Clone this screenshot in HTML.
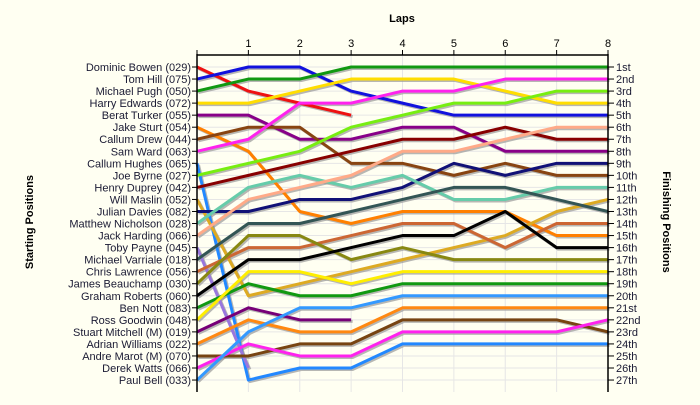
<!DOCTYPE html>
<html><head><meta charset="utf-8"><style>
html,body{margin:0;padding:0;background:#fffff2;}
svg{display:block;font-family:"Liberation Sans",sans-serif;}
</style></head><body>
<svg id="c" width="700" height="405" viewBox="0 0 700 405">
<rect width="700" height="405" fill="#fffff2"/>
<text x="402" y="22" text-anchor="middle" font-size="11" font-weight="bold" fill="#000">Laps</text>
<text transform="translate(33,222) rotate(-90)" text-anchor="middle" font-size="11" font-weight="bold" fill="#000">Starting Positions</text>
<text transform="translate(663,222) rotate(90)" text-anchor="middle" font-size="11" font-weight="bold" fill="#000">Finishing Positions</text>
<g id="grid"></g>
<g id="shadows"></g>
<g id="lines"></g>
<g id="axes"></g>
</svg>
<script>
const laps = [0,1,2,3,4,5,6,7,8];
const drivers = ["Dominic Bowen (029)","Tom Hill (075)","Michael Pugh (050)","Harry Edwards (072)","Berat Turker (055)","Jake Sturt (054)","Callum Drew (044)","Sam Ward (063)","Callum Hughes (065)","Joe Byrne (027)","Henry Duprey (042)","Will Maslin (052)","Julian Davies (082)","Matthew Nicholson (028)","Jack Harding (066)","Toby Payne (045)","Michael Varriale (018)","Chris Lawrence (056)","James Beauchamp (030)","Graham Roberts (060)","Ben Nott (083)","Ross Goodwin (048)","Stuart Mitchell  (M) (019)","Adrian Williams (022)","Andre Marot  (M) (070)","Derek Watts (066)","Paul Bell (033)"];
const colors = ["#ee1111","#1111dd","#119911","#ffdd00","#880088","#ff8000","#884411","#ff22ee","#2288ff","#77ee11","#880000","#ddaa22","#111177","#66ccaa","#ffaa88","#9977dd","#335555","#cc6633","#888811","#000000","#119911","#ffee00","#770077","#ff8811","#774411","#ff22ee","#3399ff"];
const p01 = [1,3,4,5];
const p02 = [2,1,1,3,4,5,5,5,5];
const p03 = [3,2,2,1,1,1,1,1,1];
const p04 = [4,4,3,2,2,2,3,4,4];
const p05 = [5,5,7,7,6,6,8,8,8];
const p06 = [6,8,13,14,13,13,13,15,15];
const p07 = [7,6,6,9,9,10,9,10,10];
const p08 = [8,7,4,4,3,3,2,2,2];
const p09 = [9,27,26,26,24,24,24,24,24];
const p10 = [10,9,8,6,5,4,4,3,3];
const p11 = [11,10,9,8,7,7,6,7,7];
const p12 = [12,20,19,18,17,16,15,13,12];
const p13 = [13,13,12,12,11,9,10,9,9];
const p14 = [14,11,10,11,10,12,12,11,11];
const p15 = [15,12,11,10,8,8,7,6,6];
const p16 = [16,26];
const p17 = [17,14,14,13,12,11,11,12,13];
const p18 = [18,16,16,15,14,14,16,14,14];
const p19 = [19,15,15,17,16,17,17,17,17];
const p20 = [20,17,17,16,15,15,13,16,16];
const p21 = [21,19,20,20,19,19,19,19,19];
const p22 = [22,18,18,19,18,18,18,18,18];
const p23 = [23,21,22,22];
const p24 = [24,22,23,23,21,21,21,21,21];
const p25 = [25,25,24,24,22,22,22,22,23];
const p26 = [26,24,25,25,23,23,23,23,22];
const p27 = [27,23,21,21,20,20,20,20,20];
const series = [p01,p02,p03,p04,p05,p06,p07,p08,p09,p10,p11,p12,p13,p14,p15,p16,p17,p18,p19,p20,p21,p22,p23,p24,p25,p26,p27];
const finishLabels = ["1st","2nd","3rd","4th","5th","6th","7th","8th","9th","10th","11th","12th","13th","14th","15th","16th","17th","18th","19th","20th","21st","22nd","23rd","24th","25th","26th","27th"];

const NS="http://www.w3.org/2000/svg";
const X0=197,X1=608,Y0=67,YSTEP=12.04,TOP=55,BOT=392;
const xS=l=>X0+(X1-X0)*l/8;
const yS=p=>Y0+(p-1)*YSTEP;
function mk(tag,attrs,parent){const e=document.createElementNS(NS,tag);for(const k in attrs)e.setAttribute(k,attrs[k]);parent.appendChild(e);return e;}
const grid=document.getElementById('grid'),axes=document.getElementById('axes'),lines=document.getElementById('lines'),shadows=document.getElementById('shadows');
for(let i=0;i<finishLabels.length;i++){
  const g=mk('line',{x1:X0,x2:X1,y1:yS(i+1),y2:yS(i+1),stroke:'#e6e6e6','stroke-width':1},grid);
  
  
}
laps.forEach(l=>{
  if(l===0)return;
  const g=mk('line',{x1:xS(l),x2:xS(l),y1:TOP,y2:BOT,stroke:'#e6e6e6','stroke-width':1},grid);
  
  
});
series.forEach((s,i)=>{
  const pts=s.map((p,l)=>xS(l)+','+yS(p)).join(' ');
  const sh=mk('polyline',{points:s.map((p,l)=>(xS(l)+1.5)+','+(yS(p)+1.5)).join(' '),fill:'none',stroke:'#999','stroke-width':3,'stroke-linejoin':'round','opacity':0.7},shadows);
  
  
  const pl=mk('polyline',{points:pts,fill:'none',stroke:colors[i],'stroke-width':3,'stroke-linejoin':'round'},lines);
  
  
});
let a=mk('line',{x1:X0,x2:X1,y1:TOP,y2:TOP,stroke:'#000','stroke-width':1.5},axes);


a=mk('line',{x1:X0,x2:X0,y1:TOP-1,y2:BOT,stroke:'#000','stroke-width':1.5},axes);


a=mk('line',{x1:X1,x2:X1,y1:TOP-1,y2:BOT,stroke:'#000','stroke-width':1.5},axes);


laps.forEach(l=>{
  const t=mk('line',{x1:xS(l),x2:xS(l),y1:TOP,y2:TOP-5,stroke:'#000','stroke-width':1},axes);
  
  
  if(l>0){
    const tx=mk('text',{x:xS(l),y:TOP-8,'text-anchor':'middle','font-size':11,fill:'#000'},axes);
    tx.textContent=String(l);
    
    
  }
});
drivers.forEach((d,i)=>{
  const y=yS(i+1);
  const t=mk('line',{x1:X0-5,x2:X0,y1:y,y2:y,stroke:'#000','stroke-width':1},axes);
  
  
  const tx=mk('text',{x:X0-6,y:y+4,'text-anchor':'end','font-size':11,fill:'#1a1a33'},axes);
  tx.textContent=d;
  
  
});
finishLabels.forEach((f,i)=>{
  const y=yS(i+1);
  const t=mk('line',{x1:X1,x2:X1+6,y1:y,y2:y,stroke:'#000','stroke-width':1},axes);
  
  
  const tx=mk('text',{x:X1+8,y:y+4,'font-size':11,fill:'#1a1a33'},axes);
  tx.textContent=f;
  
  
});
</script>
</body></html>
